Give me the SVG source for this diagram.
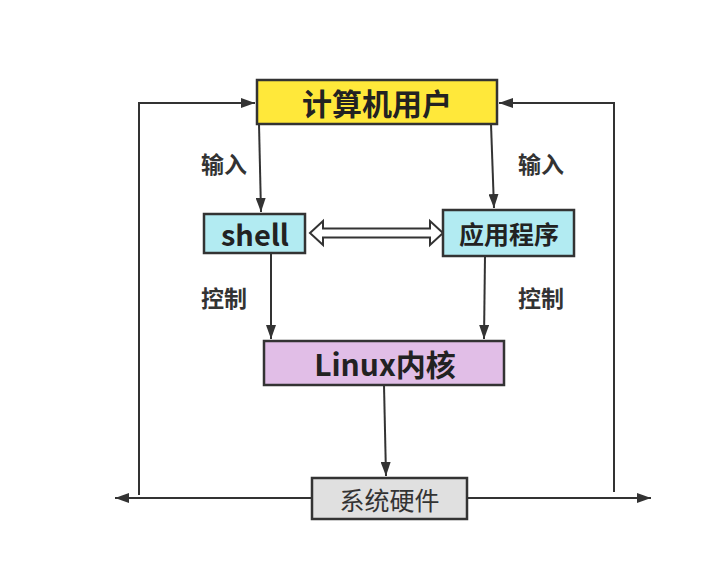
<svg xmlns="http://www.w3.org/2000/svg" width="727" height="575" viewBox="0 0 727 575">
<defs>
<marker id="ah" viewBox="0 0 14 10" refX="14" refY="5" markerWidth="7" markerHeight="5" markerUnits="strokeWidth" orient="auto">
<path d="M0,0 L14,5 L0,10 z" fill="#333"/>
</marker>
<style>
.box{stroke:#333;stroke-width:2.5}
.ln{fill:none;stroke:#333;stroke-width:2}
.t{font-family:"Noto Sans CJK SC","Noto Sans",sans-serif;font-weight:bold;fill:#222;text-anchor:middle;dominant-baseline:central}
.lab{font-family:"Noto Sans CJK SC",sans-serif;font-weight:bold;font-size:23px;fill:#333;text-anchor:middle;dominant-baseline:central}
</style>
</defs>
<rect width="727" height="575" fill="#fff"/>
<g id="connectors">
<path class="ln" d="M139,495 V103 H255" marker-end="url(#ah)"/>
<path class="ln" d="M614,492 V103 H499" marker-end="url(#ah)"/>
<path class="ln" d="M312,498 H115" marker-end="url(#ah)"/>
<path class="ln" d="M467,498 H651" marker-end="url(#ah)"/>
<path class="ln" d="M259,124 L261,212" marker-end="url(#ah)"/>
<path class="ln" d="M491,124 L494,208" marker-end="url(#ah)"/>
<path class="ln" d="M271,253 V339" marker-end="url(#ah)"/>
<path class="ln" d="M485,256 L484,339" marker-end="url(#ah)"/>
<path class="ln" d="M384,385 L386,476" marker-end="url(#ah)"/>
<path d="M310,233 L323,221 V228.5 H430 V221 L443,233 L430,245 V237.5 H323 V245 Z" fill="#fff" stroke="#333" stroke-width="2" stroke-linejoin="miter"/>
<text class="lab" x="224" y="163">输入</text>
<text class="lab" x="541" y="163">输入</text>
<text class="lab" x="224" y="297">控制</text>
<text class="lab" x="541" y="297">控制</text>
</g>
<g id="user">
<rect class="box" x="257" y="80" width="240" height="44" fill="#FFE83A"/>
<text class="t" x="377" y="102" font-size="30">计算机用户</text>
</g>
<g id="shell">
<rect class="box" x="204" y="214" width="101" height="39" fill="#B2EBF2"/>
<text class="t" x="255" y="233" font-size="29">shell</text>
</g>
<g id="app">
<rect class="box" x="443" y="210" width="131" height="46" fill="#B2EBF2"/>
<text class="t" x="509" y="233" font-size="25">应用程序</text>
</g>
<g id="kernel">
<rect class="box" x="264" y="341" width="240" height="44" fill="#E1BEE7"/>
<text class="t" x="385" y="363" font-size="30">Linux内核</text>
</g>
<g id="hardware">
<rect class="box" x="312" y="478" width="155" height="41" fill="#E0E0E0"/>
<text x="389.5" y="498.5" font-family="Noto Sans CJK SC,sans-serif" font-size="25" fill="#333" text-anchor="middle" dominant-baseline="central">系统硬件</text>
</g>
</svg>
